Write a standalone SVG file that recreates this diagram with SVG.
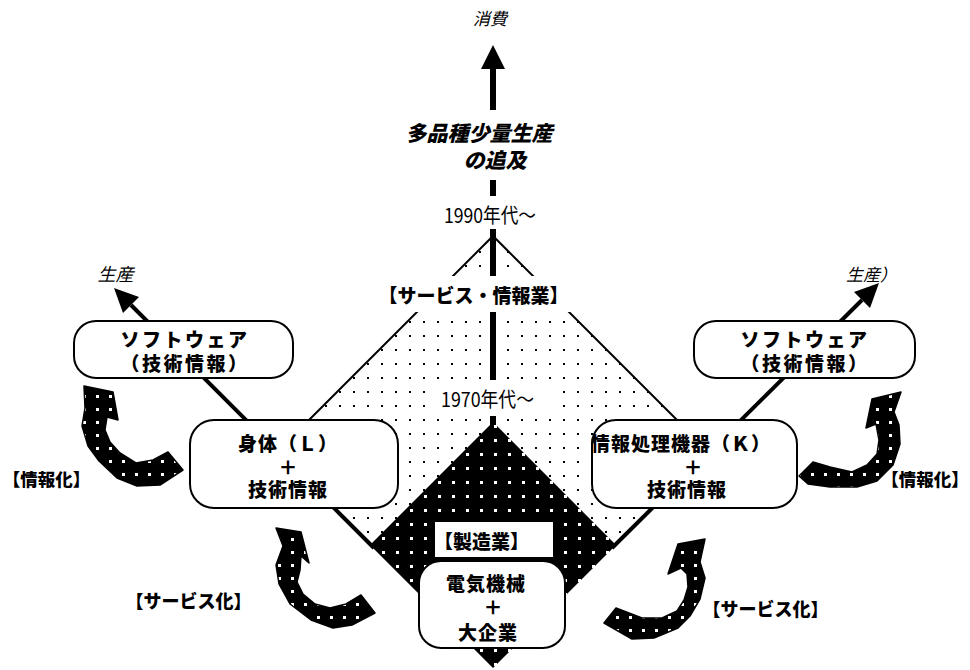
<svg xmlns="http://www.w3.org/2000/svg" width="970" height="670" viewBox="0 0 970 670">
<defs>
<pattern id="lightDots" patternUnits="userSpaceOnUse" x="3" y="-1" width="14" height="14">
<rect x="0" y="0" width="14" height="14" fill="#fff"/>
<rect x="0" y="0" width="2" height="2" fill="#000"/>
</pattern>
<pattern id="darkDots" patternUnits="userSpaceOnUse" x="4" y="5" width="14" height="14">
<rect x="0" y="0" width="14" height="14" fill="#000"/>
<rect x="0" y="0" width="3" height="3" fill="#fff"/>
</pattern>
<pattern id="arrowDots" patternUnits="userSpaceOnUse" x="0" y="0" width="13" height="13">
<rect x="0" y="0" width="13" height="13" fill="#000"/>
<rect x="5" y="5" width="3" height="3" fill="#fff"/>
</pattern>
</defs>
<style>
.t{font-family:"Noto Sans CJK JP","Noto Sans CJK SC",sans-serif;fill:#000}
.b{font-weight:900}
.it{font-style:italic}
.box{fill:#fff;stroke:#000;stroke-width:2}
.bar{stroke:#000;stroke-width:6;fill:none}
.edge{stroke:#000;stroke-width:2;fill:none}
.axis{stroke:#000;stroke-width:4;fill:none}
.curl{fill:url(#arrowDots);stroke:#000;stroke-width:1.5;stroke-linejoin:round}
</style>
<rect width="970" height="670" fill="#fff"/>

<g id="sector-service">
<polygon points="493,236 709,452 493,668 277,452" fill="url(#lightDots)"/>
<path class="edge" d="M277,452 L493,236 L709,452"/>
</g>

<g id="connectors">
<line class="bar" x1="493" y1="69" x2="493" y2="110"/>
<polygon points="493,45 481,69 505,69" fill="#000"/>
<line class="bar" x1="493" y1="180" x2="493" y2="196"/>
<line class="bar" x1="493" y1="229" x2="493" y2="430"/>
<line class="axis" x1="131" y1="305" x2="374" y2="548"/>
<polygon points="114,288 139,297 123,313" fill="#000"/>
<line class="axis" x1="612" y1="548" x2="862" y2="300"/>
<polygon points="879,283 870,308 854,292" fill="#000"/>
</g>

<g id="sector-manufacturing">
<polygon points="493,422 616,545 493,668 370,545" fill="url(#darkDots)"/>
</g>

<g id="label-service">
<rect x="380" y="276" width="192" height="36" fill="#fff"/>
<text class="t b" x="473.5" y="303" font-size="19" text-anchor="middle">【サービス・情報業】</text>
</g>
<g id="label-1970">
<rect x="428" y="380" width="128" height="36" fill="#fff"/>
<text class="t" x="441" y="407" font-size="20" textLength="93" lengthAdjust="spacingAndGlyphs">1970年代～</text>
</g>
<g id="label-1990">
<text class="t" x="444" y="223" font-size="20" textLength="92" lengthAdjust="spacingAndGlyphs">1990年代～</text>
</g>
<g id="label-top">
<text class="t it" x="490" y="25" font-size="17" text-anchor="middle">消費</text>
<text class="t b it" x="479" y="141" font-size="21" text-anchor="middle">多品種少量生産</text>
<text class="t b it" x="495" y="168" font-size="21" text-anchor="middle">の追及</text>
</g>
<g id="label-prod-left">
<text class="t it" x="115.5" y="281" font-size="18" text-anchor="middle">生産</text>
</g>
<g id="label-prod-right">
<text class="t it" x="846" y="281" font-size="17">生産）</text>
</g>

<g id="label-manufacturing">
<rect x="435" y="522" width="118" height="35" fill="#fff"/>
<text class="t b" x="481.5" y="549" font-size="19" text-anchor="middle">【製造業】</text>
</g>

<g id="node-software-left">
<rect class="box" x="74" y="321" width="219" height="57" rx="22"/>
<text class="t b" x="185" y="347" font-size="19" letter-spacing="2.5" text-anchor="middle">ソフトウェア</text>
<text class="t b" x="185" y="371" font-size="19" letter-spacing="2.5" text-anchor="middle">（技術情報）</text>
</g>
<g id="node-software-right">
<rect class="box" x="694" y="321" width="221" height="57" rx="22"/>
<text class="t b" x="805" y="347" font-size="19" letter-spacing="2.5" text-anchor="middle">ソフトウェア</text>
<text class="t b" x="805" y="371" font-size="19" letter-spacing="2.5" text-anchor="middle">（技術情報）</text>
</g>
<g id="node-body">
<rect class="box" x="190" y="420" width="208" height="88" rx="24"/>
<text class="t b" x="288" y="451" font-size="19" letter-spacing="1" text-anchor="middle">身体（Ｌ）</text>
<text class="t b" x="288" y="475" font-size="19" text-anchor="middle">＋</text>
<text class="t b" x="288" y="497" font-size="19" letter-spacing="1" text-anchor="middle">技術情報</text>
</g>
<g id="node-machine">
<rect class="box" x="592" y="420" width="205" height="88" rx="24"/>
<text class="t b" x="681" y="451" font-size="19" letter-spacing="1" text-anchor="middle">情報処理機器（Ｋ）</text>
<text class="t b" x="693" y="475" font-size="19" text-anchor="middle">＋</text>
<text class="t b" x="687" y="497" font-size="19" letter-spacing="1" text-anchor="middle">技術情報</text>
</g>
<g id="node-electric">
<rect class="box" x="419" y="561" width="146" height="87" rx="22"/>
<text class="t b" x="486" y="591" font-size="19" letter-spacing="1" text-anchor="middle">電気機械</text>
<text class="t b" x="493" y="615" font-size="19" text-anchor="middle">＋</text>
<text class="t b" x="488" y="640" font-size="19" letter-spacing="1" text-anchor="middle">大企業</text>
</g>

<g id="curl-info-left">
<polygon class="curl" points="84,386 113,392 118,420 107,417 105,430 110,442 120,453 136,463 153,460 168,452 183,470 160,485 137,486 117,478 99,461 88,446 82,426 85,408"/>
</g>
<g id="curl-info-right">
<polygon class="curl" points="901,392 894,412 899,425 900,444 893,465 877,481 857,487 830,487 808,484 799,476 813,462 830,467 852,472 867,465 877,454 879,440 876,424 866,428 872,399"/>
</g>
<g id="curl-service-left">
<polygon class="curl" points="276,528 301,532 309,563 301,556 300,570 297,582 303,594 315,604 330,608 346,604 361,595 375,613 352,625 333,628 311,620 290,604 279,584 276,565 283,546"/>
</g>
<g id="curl-service-right">
<polygon class="curl" points="705,539 700,562 705,578 700,599 690,616 678,628 654,638 632,639 604,623 616,608 642,618 662,618 677,611 684,600 688,587 687,574 681,568 668,574 678,544"/>
</g>

<g id="labels-side">
<text class="t b" x="46.5" y="486" font-size="17.5" text-anchor="middle">【情報化】</text>
<text class="t b" x="925" y="486" font-size="17.5" text-anchor="middle">【情報化】</text>
<text class="t b" x="188.5" y="608" font-size="18" text-anchor="middle">【サービス化】</text>
<text class="t b" x="765.5" y="616" font-size="18" text-anchor="middle">【サービス化】</text>
</g>
</svg>
